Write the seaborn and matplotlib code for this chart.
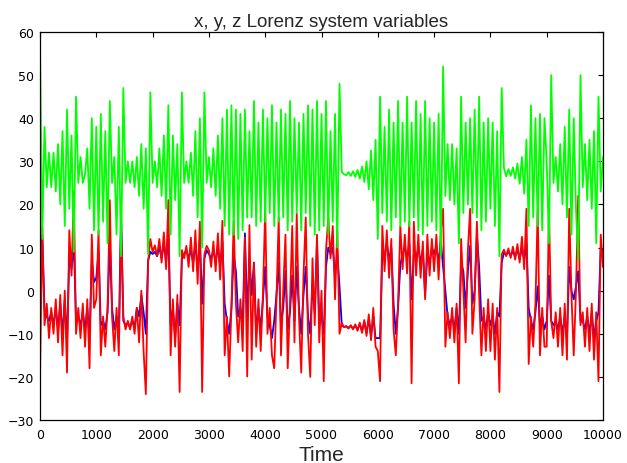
import numpy as np
import pandas as pd
import matplotlib
matplotlib.use("Agg")
import matplotlib.pyplot as plt
import seaborn as sns

# extremes, one value every 40 time units (0 .. 10000)
x_vals = [
    -3, 13, -4, -6, -7, -5, -8, -4, -9, -3, -10, -2, -12, 8, 5, 11, -7, -6, -8, -5, -9, -4, -11, 7, 2,
    3, 9, -8, -7, -9, -5, 11, -4, -9, -6, -10, 18, -7, -8, -7.5, -8.5, -7, -8.5, -4, -6, -1, -5, -10, 7, 9,
    8.5, 9, 8, 10, 7.5, 11, 6.5, 13, -8, -4, -11, -3, -8, 7.5, 8.5, 9.4, 7.5, 9.4, 6.5, 11, 4.5, 12, -3, 7.5, 9.4,
    8.5, 7.5, 9.4, 6.5, 10.4, 5.5, 11.4, -3, -7, -10, -4, 8.4, 4.5, -6, -4, -8, 13.3, -6, 7.5, -1, 6.5, -10, -4, -9, -2,
    5.5, -6, -8, -11, -7, -1, 6.5, -8, -4, 4.5, -9, -5, 3.5, -7, 5.5, -4, -10, -1, 5.5, -6, -10, 1.6, -5, 11.4, -7,
    -6, -10, 5.5, 10, 8.5, 10, 3.5, 9, 1, -8, -8.4, -8.3, -8.6, -8.2, -8.8, -8.1, -9, -7.8, -9.4, -7.3, -9.8, -6.6, -10.5, -6, -11,
    -11, -11, 9, 8, 11, 7, 10, -3, -10, -4, 6, 8.5, 10, 7.5, 11, -2, 8.5, 7.5, 10, 6.5, 9.4, -1, 8.5, 6.5, 10,
    8.5, 10.4, 6.5, 11.4, 5.5, 0, -6, -8, -6, -9, -4, -10, 6.5, 4.5, -4, 4.5, 10.4, -3, 0, 13, 5.5, -7, -6, -9, -5,
    -8, -6, -10, -5, -6, 6.5, 8.8, 8.3, 9, 8.1, 9.2, 7.8, 9.6, 7.3, 10, 7, 11, -4, -7, -9, -5, 1, -8, -6, -9,
    -7, 3.5, -7, -8, -7, -9, -6, -10, -6, -11, 5.5, 0, -2, 1, 4.5, -7, -7, -9, -6, -10, -5, -11, -7, -5, 10, 9,
]
y_vals = [
    -20, 15, -8, -3, -11, -4, -10, -2, -12, -1, -15, 0, -19, 14, 3.5, 23, -10, -4, -11, -3, -13, -2, -18, 13, -4,
    -2, 14, -15, -6, -13, -4, 21, -6, -14, -4, -15, 16, -6, -9, -7, -9, -6, -10, -4, -12, 0, -14, -24, 6.5, 12,
    9, 10.5, 8, 12, 6.5, 13.5, 5, 21, -15, -2, -13, -1, -23.5, 9.4, 7.5, 10.4, 5.5, 12.3, 4.5, 14, 1.6, 16, -23.5, 8.4, 10.4,
    9.4, 5.5, 11.4, 4.5, 13.3, 2.6, 16.2, -15, -6, -19.9, -4, 16.2, -3, -12, -2, -14, 12.3, -19.9, 15.2, -16, 6.5, -13, -2, -14, -1,
    19, -10, -4, -15, -18, -2, 17, -15, 0, 13, -18, -3, 15, -12, 18, -6, -19, 3.5, 17, -10, -20, 7.5, -8, 13, -12,
    0, -21, 9.4, 17, 7.5, 15, -2, 14, -10, -7.5, -8.5, -8.2, -8.8, -8.0, -9.0, -7.8, -9.3, -7.4, -9.8, -6.8, -10.5, -5.5, -11.5, -4, -13,
    -14, -21, 15, 4.5, 14, 3, 12, -9, -15, -3, 15, 5, 13, 4, 16, -21.5, 16, 3.5, 13, 3, 11.4, -2, 13, 3.5, 12,
    4.5, 13, 2.6, 14, 19, -13, -5, -11, -4, -12, -3, -21.5, 12, 0, -12, 9.4, 19, -10, -2, 16, -1, -15, -4, -14, -2,
    -14, -3, -16, -4, -23.5, 8.4, 9.5, 8, 9.8, 7.6, 10.2, 7.2, 10.8, 6.5, 12.5, 5, 19, -17, -6, -13, -3, 19, -15, -4, -13,
    -13, 19, -7, -11, -5, -13, -4, -15, -3, -16, 19, -1, -15, 0, 22, -8, -5, -13, -4, -14, -3, -16, -5, -21, 13, 5.5,
]
z_vals = [
    57, 12, 38, 24, 32, 24, 32, 23, 34, 20, 37, 15, 42, 19, 36, 9, 45, 25, 31, 25, 27, 33, 19, 40, 14,
    38, 13, 41, 16, 37, 11, 44, 25, 31, 13, 38, 8, 47, 25, 30, 25, 30, 24, 31, 22, 34, 19, 33, 8.5, 46,
    25, 30, 24, 33, 22, 36, 19, 43, 13, 36, 21, 34, 8, 46, 25, 30, 25, 32, 22, 37, 17, 40, 10, 46, 25,
    31, 24, 33, 22, 36, 19, 40, 15, 42, 13, 43, 13, 42, 12, 41, 14, 42, 17, 37, 17, 44, 15, 39, 16, 42,
    16, 40, 18, 43, 15, 39, 16, 42, 17, 41, 14, 44, 16, 40, 18, 39, 14, 41, 18, 43, 15, 42, 13, 44, 14,
    41, 15, 44, 13, 37, 16, 41, 10, 48, 27.5, 27, 26.8, 27.5, 26.6, 27.7, 26.4, 28, 26, 28.8, 25.2, 30, 23.5, 32.5, 21, 35,
    12, 45, 18, 38, 16, 42, 14, 39, 17, 44, 15, 39, 16, 45, 15, 39, 17, 44, 14, 41, 13, 44, 15, 40, 16,
    39, 14, 41, 8, 52, 22, 34, 21, 34, 20, 33, 11, 45, 18, 39, 20, 40, 18, 42, 17, 45, 14, 39, 16, 40,
    19, 39, 15, 37, 8, 47, 28.5, 26.5, 28.2, 26.6, 28.6, 26, 29.5, 24.8, 31, 22.5, 35, 15, 43, 17, 40, 15, 41, 14, 40,
    30, 11, 50, 25, 31, 23, 34, 20, 38, 17, 42, 13, 40, 19, 7, 50, 24, 34, 21, 35, 19, 37, 11, 45, 23, 31,
]
time = np.arange(0, 10001, 40)

df = pd.DataFrame({"Time": np.tile(time, 3),
                   "value": x_vals + y_vals + z_vals,
                   "var": ["x"] * len(time) + ["y"] * len(time) + ["z"] * len(time)})

sns.set_style("white")
plt.rcParams["font.family"] = ["Liberation Sans", "DejaVu Sans"]

fig = plt.figure(figsize=(6.27, 4.64), dpi=100)
ax = fig.add_axes([40 / 627, 1 - 421 / 464, 563 / 627, 388 / 464])

sns.lineplot(data=df, x="Time", y="value", hue="var", hue_order=["x", "y", "z"],
             palette={"x": "#0000ff", "y": "#ff0000", "z": "#00ff00"},
             estimator=None, sort=False, linewidth=1.3, legend=False, ax=ax)

ax.set_xlim(0, 10000)
ax.set_ylim(-30, 60)
ax.set_xticks(range(0, 10001, 1000))
ax.set_yticks(range(-30, 61, 10))
ax.tick_params(direction="in", length=3.5, width=0.8, top=True, right=True,
               colors="black", labelsize=9)
ax.tick_params(axis="x", pad=6)
ax.tick_params(axis="y", pad=4)
for lab in ax.get_xticklabels() + ax.get_yticklabels():
    lab.set_fontfamily("DejaVu Sans")
for sp in ax.spines.values():
    sp.set_visible(True)
    sp.set_color("black")
    sp.set_linewidth(0.9)

ax.set_title("x, y, z Lorenz system variables", fontsize=13.5, pad=4)
ax.set_xlabel("Time", fontsize=15, labelpad=3)
ax.set_ylabel("")

fig.savefig("out.png", dpi=100)
